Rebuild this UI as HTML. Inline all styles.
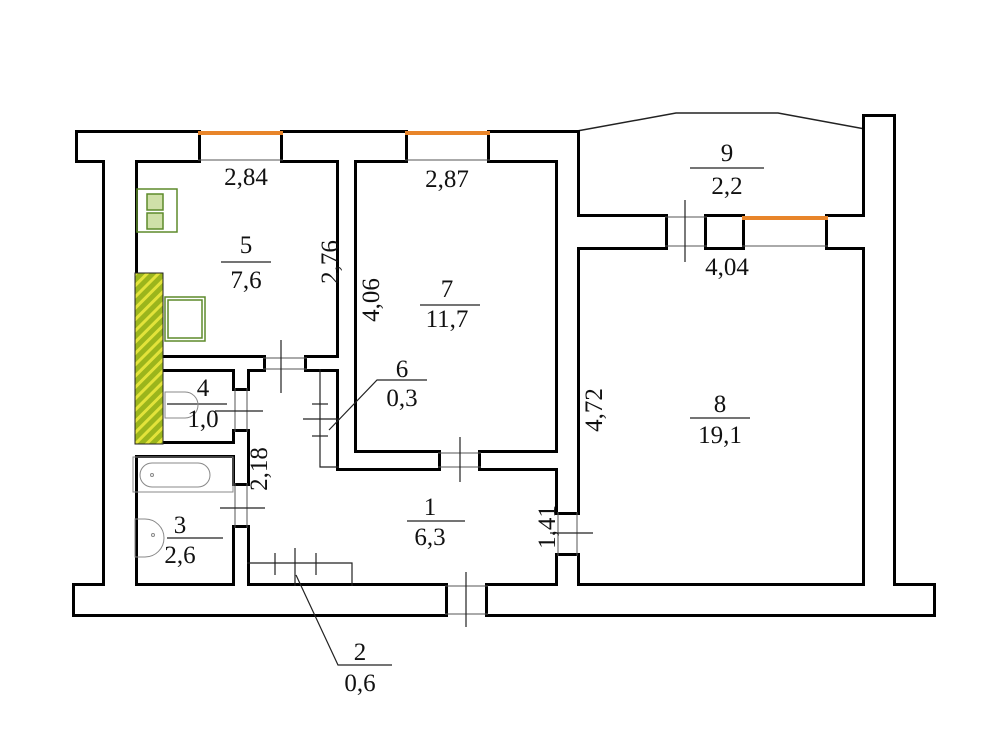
<!DOCTYPE html>
<html><head><meta charset="utf-8"><style>
html,body{margin:0;padding:0;background:#fff;}
svg{display:block;}
text{font-family:"Liberation Serif",serif;font-size:25px;fill:#111;text-anchor:middle;}
</style></head><body>
<svg width="1000" height="747" viewBox="0 0 1000 747" xmlns="http://www.w3.org/2000/svg">
<defs>
<pattern id="h" width="8" height="8" patternUnits="userSpaceOnUse" patternTransform="rotate(-45)">
<rect width="8" height="8" fill="#9bb51c"/><rect width="8" height="3" fill="#e3e33a"/>
</pattern>
</defs>
<rect width="1000" height="747" fill="#fff"/>
<polyline points="577,131 676,113 778,113 865,129" fill="none" stroke="#222" stroke-width="1.5"/>
<g id="walls">
<g fill="#000" stroke="#000" stroke-width="6" stroke-linejoin="miter">
<rect x="78" y="133" width="120" height="27"/>
<rect x="105" y="133" width="30" height="481"/>
<rect x="283" y="133" width="122" height="27"/>
<rect x="490" y="133" width="87" height="27"/>
<rect x="339" y="133" width="15" height="335"/>
<rect x="558" y="133" width="19" height="379"/>
<rect x="558" y="556" width="19" height="58"/>
<rect x="135" y="358" width="128" height="11"/>
<rect x="307" y="358" width="47" height="11"/>
<rect x="235" y="358" width="12" height="30"/>
<rect x="235" y="432" width="12" height="51"/>
<rect x="235" y="528" width="12" height="86"/>
<rect x="135" y="444" width="112" height="11"/>
<rect x="339" y="453" width="99" height="15"/>
<rect x="481" y="453" width="96" height="15"/>
<rect x="577" y="217" width="88" height="30"/>
<rect x="707" y="217" width="35" height="30"/>
<rect x="828" y="217" width="38" height="30"/>
<rect x="865" y="117" width="28" height="497"/>
<rect x="75" y="586" width="370" height="28"/>
<rect x="488" y="586" width="445" height="28"/>
</g>
<g fill="#fff">
<rect x="78" y="133" width="120" height="27"/>
<rect x="105" y="133" width="30" height="481"/>
<rect x="283" y="133" width="122" height="27"/>
<rect x="490" y="133" width="87" height="27"/>
<rect x="339" y="133" width="15" height="335"/>
<rect x="558" y="133" width="19" height="379"/>
<rect x="558" y="556" width="19" height="58"/>
<rect x="135" y="358" width="128" height="11"/>
<rect x="307" y="358" width="47" height="11"/>
<rect x="235" y="358" width="12" height="30"/>
<rect x="235" y="432" width="12" height="51"/>
<rect x="235" y="528" width="12" height="86"/>
<rect x="135" y="444" width="112" height="11"/>
<rect x="339" y="453" width="99" height="15"/>
<rect x="481" y="453" width="96" height="15"/>
<rect x="577" y="217" width="88" height="30"/>
<rect x="707" y="217" width="35" height="30"/>
<rect x="828" y="217" width="38" height="30"/>
<rect x="865" y="117" width="28" height="497"/>
<rect x="75" y="586" width="370" height="28"/>
<rect x="488" y="586" width="445" height="28"/>
</g>
</g>
<g stroke="#e8852a" stroke-width="4">
<line x1="198" y1="133" x2="283" y2="133"/>
<line x1="405" y1="133" x2="490" y2="133"/>
<line x1="742" y1="218" x2="828" y2="218"/>
</g>
<g stroke="#555" stroke-width="1">
<line x1="198" y1="160" x2="283" y2="160"/>
<line x1="405" y1="160" x2="490" y2="160"/>
<line x1="742" y1="246" x2="828" y2="246"/>
<line x1="665" y1="217" x2="707" y2="217"/>
<line x1="665" y1="246" x2="707" y2="246"/>
<line x1="263" y1="358" x2="307" y2="358"/>
<line x1="263" y1="369" x2="307" y2="369"/>
<line x1="438" y1="453" x2="481" y2="453"/>
<line x1="438" y1="467" x2="481" y2="467"/>
<line x1="558" y1="512" x2="558" y2="556"/>
<line x1="577" y1="512" x2="577" y2="556"/>
<line x1="445" y1="586" x2="488" y2="586"/>
<line x1="445" y1="614" x2="488" y2="614"/>
<line x1="235" y1="388" x2="235" y2="432"/>
<line x1="247" y1="388" x2="247" y2="432"/>
<line x1="235" y1="483" x2="235" y2="528"/>
<line x1="247" y1="483" x2="247" y2="528"/>
</g>
<g stroke="#222" stroke-width="1.2" fill="none">
<polyline points="320,369 320,467 339,467"/>
<polyline points="247,563 352,563 352,586"/>
<line x1="685" y1="200" x2="685" y2="262"/>
<line x1="281" y1="340" x2="281" y2="393"/>
<line x1="460" y1="437" x2="460" y2="482"/>
<line x1="550" y1="533" x2="593" y2="533"/>
<line x1="466" y1="572" x2="466" y2="627"/>
<line x1="215" y1="411" x2="263" y2="411"/>
<line x1="220" y1="508" x2="265" y2="508"/>
<line x1="312" y1="404" x2="328" y2="404"/>
<line x1="303" y1="419" x2="340" y2="419"/>
<line x1="312" y1="436" x2="328" y2="436"/>
<line x1="275" y1="553" x2="275" y2="575"/>
<line x1="295" y1="548" x2="295" y2="586"/>
<line x1="316" y1="553" x2="316" y2="575"/>
<polyline points="329,430 377,380 427,380"/>
<polyline points="296,575 338,665 392,665"/>
<line x1="221" y1="262" x2="271" y2="262"/>
<line x1="420" y1="305" x2="480" y2="305"/>
<line x1="690" y1="168" x2="764" y2="168"/>
<line x1="690" y1="418" x2="750" y2="418"/>
<line x1="167" y1="404" x2="227" y2="404"/>
<line x1="167" y1="538" x2="223" y2="538"/>
<line x1="407" y1="521" x2="465" y2="521"/>
</g>
<rect x="135" y="273" width="28" height="171" fill="url(#h)" stroke="#222" stroke-width="1"/>
<g fill="none" stroke="#5d8a2a" stroke-width="1.5">
<rect x="137" y="189" width="40" height="43"/>
<rect x="147" y="194" width="16" height="16" fill="#cfe0a8"/>
<rect x="147" y="213" width="16" height="16" fill="#cfe0a8"/>
<rect x="165" y="297" width="40" height="44"/>
<rect x="168" y="300" width="34" height="38"/>
</g>
<g fill="none" stroke="#888" stroke-width="1">
<rect x="133" y="457" width="100" height="35"/>
<rect x="140" y="463" width="70" height="24" rx="12"/>
<path d="M165,392 h20 a13,13 0 0 1 0,26 h-20 z"/>
<path d="M135,519 h10 a18,18 0 0 1 0,38 h-10 z"/>
<circle cx="153" cy="535" r="1.5"/>
<circle cx="152" cy="475" r="1.5"/>
</g>
<text x="246" y="185">2,84</text>
<text x="447" y="187">2,87</text>
<text x="246" y="253">5</text>
<text x="246" y="288">7,6</text>
<text x="447" y="297">7</text>
<text x="447" y="327">11,7</text>
<text x="727" y="161">9</text>
<text x="727" y="194">2,2</text>
<text x="727" y="275">4,04</text>
<text x="720" y="412">8</text>
<text x="720" y="443">19,1</text>
<text x="402" y="377">6</text>
<text x="402" y="406">0,3</text>
<text x="203" y="396">4</text>
<text x="203" y="427">1,0</text>
<text x="180" y="533">3</text>
<text x="180" y="563">2,6</text>
<text x="430" y="515">1</text>
<text x="430" y="545">6,3</text>
<text x="360" y="660">2</text>
<text x="360" y="691">0,6</text>
<text transform="translate(338,262) rotate(-90)">2,76</text>
<text transform="translate(379,300) rotate(-90)">4,06</text>
<text transform="translate(602,410) rotate(-90)">4,72</text>
<text transform="translate(267,469) rotate(-90)">2,18</text>
<text transform="translate(555,527) rotate(-90)">1,41</text>
</svg>
</body></html>
